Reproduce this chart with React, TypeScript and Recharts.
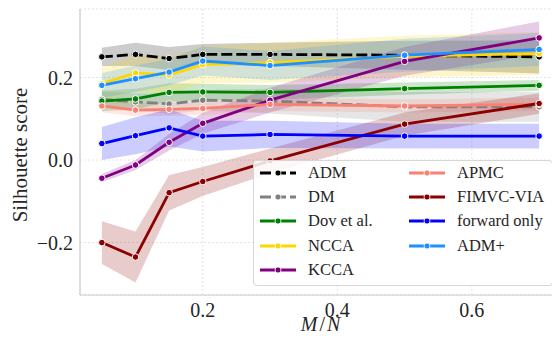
import React from "react";
import {
	Area,
	CartesianGrid,
	ComposedChart,
	Legend,
	Line,
	XAxis,
	YAxis,
} from "recharts";

// M/N ratios on the x axis
const ratios = [0.05, 0.1, 0.15, 0.2, 0.3, 0.5, 0.7];
const xTicks = [0.2, 0.4, 0.6];
const yTicks = [-0.2, 0, 0.2];

// mean silhouette score and half-width of the shaded band, per method
const admMean = [0.25, 0.256, 0.246, 0.256, 0.256, 0.254, 0.25];
const admCi = [0.022, 0.028, 0.028, 0.025, 0.028, 0.035, 0.04];
const dmMean = [0.147, 0.141, 0.136, 0.145, 0.143, 0.129, 0.129];
const dmCi = [0.02, 0.02, 0.025, 0.025, 0.03, 0.036, 0.036];
const dovMean = [0.143, 0.148, 0.164, 0.165, 0.164, 0.173, 0.181];
const dovCi = [0.025, 0.025, 0.022, 0.02, 0.018, 0.015, 0.013];
const nccaMean = [0.185, 0.211, 0.206, 0.231, 0.236, 0.251, 0.258];
const nccaCi = [0.04, 0.045, 0.045, 0.045, 0.048, 0.05, 0.052];
const kccaMean = [-0.044, -0.012, 0.043, 0.089, 0.145, 0.239, 0.296];
const kccaCi = [0.01, 0.012, 0.02, 0.025, 0.03, 0.035, 0.04];
const apmcMean = [0.131, 0.121, 0.123, 0.125, 0.135, 0.131, 0.135];
const apmcCi = [0.015, 0.015, 0.016, 0.016, 0.016, 0.016, 0.016];
const fimvcMean = [-0.2, -0.235, -0.079, -0.052, -0.002, 0.087, 0.137];
const fimvcCi = [0.052, 0.062, 0.043, 0.035, 0.03, 0.028, 0.025];
const forwardMean = [0.04, 0.059, 0.078, 0.058, 0.062, 0.058, 0.058];
const forwardCi = [0.04, 0.045, 0.045, 0.037, 0.033, 0.03, 0.03];
const admPlusMean = [0.181, 0.197, 0.213, 0.24, 0.229, 0.254, 0.268];
const admPlusCi = [0.03, 0.032, 0.032, 0.035, 0.035, 0.04, 0.04];

const series = [
	{ key: "adm", name: "ADM", color: "#000000", dashed: true, mean: admMean, ci: admCi },
	{ key: "dm", name: "DM", color: "#808080", dashed: true, mean: dmMean, ci: dmCi },
	{ key: "dov", name: "Dov et al.", color: "#008000", dashed: false, mean: dovMean, ci: dovCi },
	{ key: "ncca", name: "NCCA", color: "#FFD700", dashed: false, mean: nccaMean, ci: nccaCi },
	{ key: "kcca", name: "KCCA", color: "#800080", dashed: false, mean: kccaMean, ci: kccaCi },
	{ key: "apmc", name: "APMC", color: "#FA8072", dashed: false, mean: apmcMean, ci: apmcCi },
	{ key: "fimvc", name: "FIMVC-VIA", color: "#8B0000", dashed: false, mean: fimvcMean, ci: fimvcCi },
	{ key: "fwd", name: "forward only", color: "#0000FF", dashed: false, mean: forwardMean, ci: forwardCi },
	{ key: "admPlus", name: "ADM+", color: "#1E90FF", dashed: false, mean: admPlusMean, ci: admPlusCi },
];

const rows = ratios.map((x, i) => {
	const row: Record<string, number | number[]> = { x };
	for (const s of series) {
		row[s.key] = s.mean[i];
		row[`${s.key}Band`] = [s.mean[i] - s.ci[i], s.mean[i] + s.ci[i]];
	}
	return row;
});

const FONT = "'Liberation Serif', 'Times New Roman', serif";
const TEXT = "#262626";
const DASH = "11 4";

function fmtTick(v: number): string {
	const s = Math.abs(v).toFixed(1);
	return v < 0 ? `\u2212${s}` : s;
}

function LegendBox() {
	return (
		<div
			style={{
				position: "relative",
				width: 300,
				height: 126,
				boxSizing: "border-box",
				border: "1px solid #d6d6d6",
				borderRadius: 4,
				background: "rgba(255,255,255,0.85)",
				fontFamily: FONT,
				fontSize: 16.5,
				color: TEXT,
			}}
		>
			{series.map((s, i) => {
				const col = i < 5 ? 0 : 1;
				const row = i < 5 ? i : i - 5;
				const top = 12.5 + row * 24.4;
				const left = col === 0 ? 5 : 154;
				return (
					<div key={s.key}>
						<svg
							width={38}
							height={10}
							style={{ position: "absolute", left, top: top - 6 }}
						>
							<line
								x1={1}
								x2={37}
								y1={5}
								y2={5}
								stroke={s.color}
								strokeWidth={2.8}
								strokeDasharray={s.dashed ? DASH : undefined}
							/>
							<circle cx={19} cy={5} r={3} fill={s.color} stroke="#fff" strokeWidth={0.8} />
						</svg>
						<span
							style={{
								position: "absolute",
								left: left + 49,
								top: top - 11,
								lineHeight: "20px",
								whiteSpace: "nowrap",
							}}
						>
							{s.name}
						</span>
					</div>
				);
			})}
		</div>
	);
}

export default function App() {
	return (
		<div
			style={{
				position: "absolute",
				left: 0,
				top: 0,
				width: 552,
				height: 341,
				overflow: "hidden",
				background: "#fff",
			}}
		>
			<ComposedChart
				width={561}
				height={341}
				data={rows}
				margin={{ top: 9, right: 0, bottom: 0, left: 0 }}
			>
				<CartesianGrid stroke="#dcdcdc" strokeDasharray="2 2" strokeWidth={0.8} />
				<XAxis
					type="number"
					dataKey="x"
					domain={[0.0175, 0.7325]}
					ticks={xTicks}
					tickFormatter={fmtTick}
					allowDataOverflow
					height={46}
					tickLine={false}
					axisLine={{ stroke: "#cccccc", strokeWidth: 1.2 }}
					tick={{ fontFamily: FONT, fontSize: 20, fill: TEXT }}
					tickMargin={2}
					label={{
						position: "bottom",
						content: (props: any) => {
							const vb = props.viewBox;
							const cx = vb.x + vb.width / 2;
							return (
								<text
									x={cx}
									y={331}
									textAnchor="middle"
									fontFamily={FONT}
									fontSize={20}
									fill={TEXT}
								>
									<tspan fontStyle="italic">M</tspan>
									<tspan dx={2}>/</tspan>
									<tspan dx={2} fontStyle="italic">N</tspan>
								</text>
							);
						},
					}}
				/>
				<YAxis
					type="number"
					domain={[-0.327, 0.366]}
					ticks={yTicks}
					tickFormatter={fmtTick}
					allowDataOverflow
					width={80}
					tickLine={false}
					axisLine={{ stroke: "#cccccc", strokeWidth: 1.2 }}
					tick={{ fontFamily: FONT, fontSize: 20, fill: TEXT }}
					tickMargin={1}
					label={{
						position: "left",
						content: (props: any) => {
							const vb = props.viewBox;
							const cy = vb.y + vb.height / 2 + 3;
							return (
								<text
									x={0}
									y={0}
									transform={`translate(27, ${cy}) rotate(-90)`}
									textAnchor="middle"
									fontFamily={FONT}
									fontSize={21}
									fill={TEXT}
								>
									Silhouette score
								</text>
							);
						},
					}}
				/>
				{series.map((s) => (
					<Area
						key={`${s.key}-band`}
						type="linear"
						dataKey={`${s.key}Band`}
						stroke="none"
						fill={s.color}
						fillOpacity={0.2}
						isAnimationActive={false}
						activeDot={false}
						legendType="none"
					/>
				))}
				{series.map((s) => (
					<Line
						key={s.key}
						type="linear"
						dataKey={s.key}
						name={s.name}
						stroke={s.color}
						strokeWidth={2.8}
						strokeDasharray={s.dashed ? DASH : undefined}
						dot={{ r: 3.3, fill: s.color, stroke: "#ffffff", strokeWidth: 1, strokeDasharray: "" }}
						activeDot={false}
						isAnimationActive={false}
					/>
				))}
				<Legend
					layout="vertical"
					align="center"
					verticalAlign="middle"
					wrapperStyle={{ left: 253, top: 160, width: 300, height: 126 }}
					content={() => <LegendBox />}
				/>
			</ComposedChart>
		</div>
	);
}
